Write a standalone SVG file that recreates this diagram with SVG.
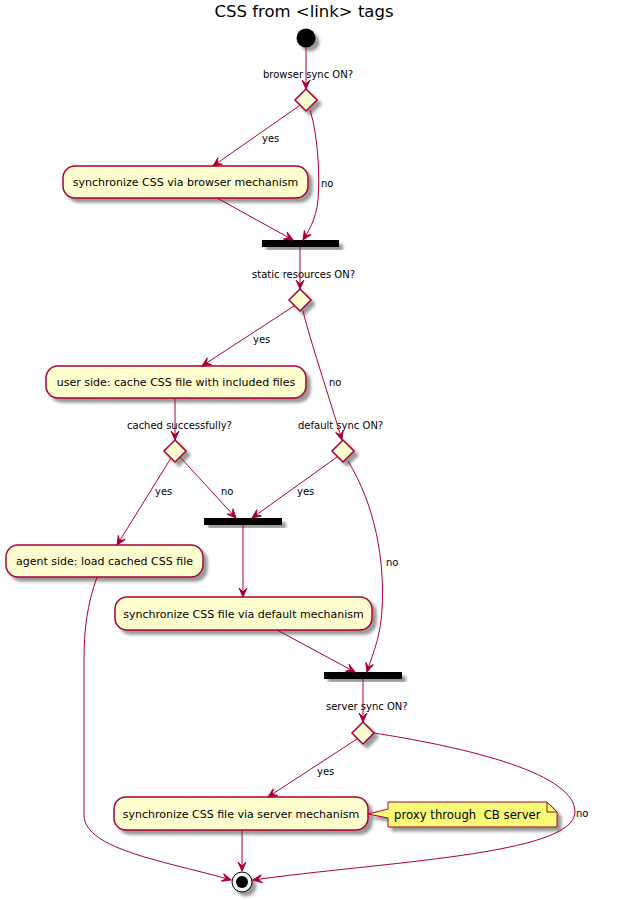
<svg xmlns="http://www.w3.org/2000/svg" width="632" height="900" viewBox="0 0 632 900">
<defs>
  <filter id="sh" x="-20%" y="-20%" width="150%" height="160%">
    <feGaussianBlur in="SourceAlpha" stdDeviation="1.8" result="b"/>
    <feColorMatrix in="b" type="matrix" values="0 0 0 0 0  0 0 0 0 0  0 0 0 0 0  0 0 0 0.4 0" result="c"/>
    <feOffset in="c" dx="4" dy="4" result="o"/>
    <feMerge><feMergeNode in="o"/><feMergeNode in="SourceGraphic"/></feMerge>
  </filter>
  <marker id="ah" markerUnits="userSpaceOnUse" markerWidth="12" markerHeight="12" viewBox="-1 -6 12 12" refX="9" refY="0" orient="auto">
    <path d="M0,-4 L9,0 L0,4 L4,0 Z" fill="#A80036" stroke="#A80036" stroke-width="1"/>
  </marker>
  <style>
    .act { fill: #FEFECE; stroke: #A80036; stroke-width: 1.5; }
    .dia { fill: #FEFECE; stroke: #A80036; stroke-width: 1.5; }
    .bar { fill: #000000; }
    .t { font-family: "DejaVu Sans", Verdana, sans-serif; font-size: 11px; fill: #000; }
    .lb { font-family: "DejaVu Sans", Verdana, sans-serif; font-size: 10px; fill: #000; }
    .c { fill: none; stroke: #A80036; stroke-width: 1; marker-end: url(#ah); }
    .note { fill: #FBFB77; stroke: #A80036; stroke-width: 1; }
  </style>
</defs>
<rect width="632" height="900" fill="#FFFFFF"/>
<text x="304" y="17" text-anchor="middle" font-family="DejaVu Sans, Verdana, sans-serif" font-size="16.5">CSS from &lt;link&gt; tags</text>

<g id="start"><circle cx="306" cy="38" r="9.5" fill="#000" filter="url(#sh)"/></g>

<g id="d1"><polygon class="dia" points="306,89 317,100 306,111 295,100" filter="url(#sh)"/><text class="lb" x="263" y="78">browser sync ON?</text></g>

<g id="a1"><rect class="act" x="63" y="166" width="245" height="32" rx="12" filter="url(#sh)"/><text class="t" x="185.5" y="186" text-anchor="middle">synchronize CSS via browser mechanism</text></g>

<g id="bar1"><rect class="bar" x="262" y="240" width="77" height="7" filter="url(#sh)"/></g>

<g id="d2"><polygon class="dia" points="300,289 311,300 300,311 289,300" filter="url(#sh)"/><text class="lb" x="252" y="278">static resources ON?</text></g>

<g id="a2"><rect class="act" x="46" y="366" width="260" height="32" rx="12" filter="url(#sh)"/><text class="t" x="176" y="386" text-anchor="middle">user side: cache CSS file with included files</text></g>

<g id="d3"><polygon class="dia" points="175,440 186,451 175,462 164,451" filter="url(#sh)"/><text class="lb" x="127" y="429">cached successfully?</text></g>

<g id="d4"><polygon class="dia" points="343,440 354,451 343,462 332,451" filter="url(#sh)"/><text class="lb" x="298" y="429">default sync ON?</text></g>

<g id="bar2"><rect class="bar" x="204" y="518" width="78" height="7" filter="url(#sh)"/></g>

<g id="a3"><rect class="act" x="6" y="545" width="197" height="32" rx="12" filter="url(#sh)"/><text class="t" x="104.5" y="565" text-anchor="middle">agent side: load cached CSS file</text></g>

<g id="a4"><rect class="act" x="115" y="597" width="257" height="33" rx="12" filter="url(#sh)"/><text class="t" x="243.5" y="617.5" text-anchor="middle">synchronize CSS file via default mechanism</text></g>

<g id="bar3"><rect class="bar" x="324" y="672" width="78" height="7" filter="url(#sh)"/></g>

<g id="d5"><polygon class="dia" points="363,722 374,733 363,744 352,733" filter="url(#sh)"/><text class="lb" x="326" y="710">server sync ON?</text></g>

<g id="a5"><rect class="act" x="114" y="797" width="254" height="33" rx="12" filter="url(#sh)"/><text class="t" x="241" y="817.5" text-anchor="middle">synchronize CSS file via server mechanism</text></g>

<g id="note1">
  <path class="note" d="M388,802 L547,802 L557,812 L557,827 L388,827 L388,818 L368,814 L388,809 Z" filter="url(#sh)"/>
  <path d="M547,802 L547,812 L557,812" fill="none" stroke="#A80036" stroke-width="1"/>
  <text x="394" y="819" font-family="DejaVu Sans, Verdana, sans-serif" font-size="11.7px" xml:space="preserve">proxy through  CB server</text>
</g>

<g id="end"><circle cx="242" cy="882" r="10" fill="#F4F4F4" stroke="#000" stroke-width="1" filter="url(#sh)"/><circle cx="242" cy="882" r="6" fill="#000"/></g>

<g id="connectors">
  <path class="c" d="M306,48 L306,89"/>
  <path class="c" d="M299,106 L213,166"/>
  <path class="c" d="M310,110 C318,135 320,175 318,200 C316,220 308,232 303,240"/>
  <path class="c" d="M217,198 L293,240"/>
  <path class="c" d="M300,247 L300,289"/>
  <path class="c" d="M294,306 L202,366"/>
  <path class="c" d="M303,311 C310,340 330,400 342,440"/>
  <path class="c" d="M175,398 L175,440"/>
  <path class="c" d="M171,458 L117,545"/>
  <path class="c" d="M180,457 L236,518"/>
  <path class="c" d="M337,457 L252,518"/>
  <path class="c" d="M348,461 C375,505 385,560 382,610 C380,640 372,655 367,672"/>
  <path class="c" d="M243,525 L243,597"/>
  <path class="c" d="M277,630 L355,672"/>
  <path class="c" d="M363,679 L363,722"/>
  <path class="c" d="M357,739 L268,797"/>
  <path class="c" d="M374,733 C450,745 575,770 575,812 C575,855 380,862 253,880"/>
  <path class="c" d="M242,830 L242,871"/>
  <path class="c" d="M97,577 C87,605 84,630 84,660 L84,815 C84,850 170,862 231,880"/>
  <text class="lb" x="262" y="142">yes</text>
  <text class="lb" x="321" y="187">no</text>
  <text class="lb" x="253" y="343">yes</text>
  <text class="lb" x="329" y="386">no</text>
  <text class="lb" x="155" y="495">yes</text>
  <text class="lb" x="221" y="495">no</text>
  <text class="lb" x="297" y="495">yes</text>
  <text class="lb" x="386" y="566">no</text>
  <text class="lb" x="317" y="775">yes</text>
  <text class="lb" x="576" y="817">no</text>
</g>
</svg>
